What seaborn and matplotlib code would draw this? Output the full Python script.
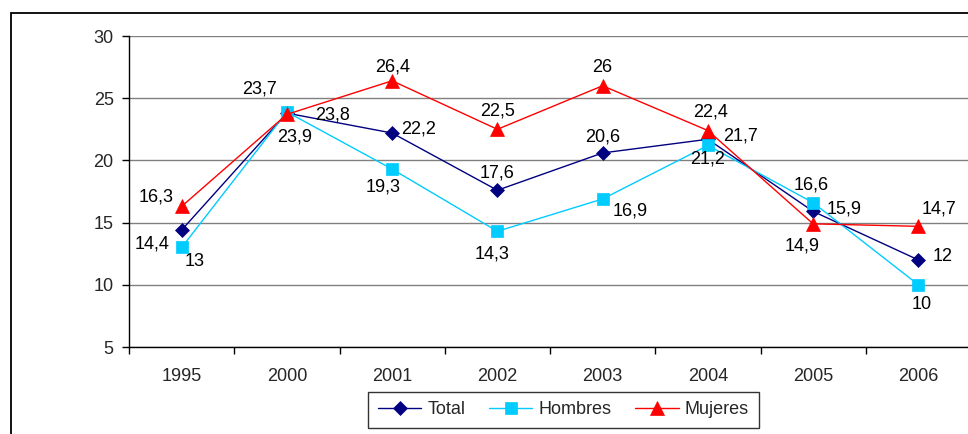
import pandas as pd
import matplotlib
matplotlib.use('Agg')
import matplotlib.pyplot as plt
import seaborn as sns
from matplotlib.patches import Rectangle

# data
years = ['1995', '2000', '2001', '2002', '2003', '2004', '2005', '2006']
total = [14.4, 23.8, 22.2, 17.6, 20.6, 21.7, 15.9, 12]
hombres = [13, 23.9, 19.3, 14.3, 16.9, 21.2, 16.6, 10]
mujeres = [16.3, 23.7, 26.4, 22.5, 26, 22.4, 14.9, 14.7]
series_names = ['Total', 'Hombres', 'Mujeres']

# label offsets in pixels (dx, dy up)
off_total = [(-30, -14), (46, -2), (26, 4), (0, 17), (0, 16), (33, 3), (31, 2), (24, 3)]
off_hombres = [(13, -14), (8, -25), (-9, -18), (-5, -23), (28, -12), (0, -14), (-2, 18), (3, -20)]
off_mujeres = [(-25, 9), (-27, 25), (0, 14), (0, 18), (0, 18), (3, 19), (-11, -22), (21, 17)]

colors = {'Total': '#000080', 'Hombres': '#00CCFF', 'Mujeres': '#FF0000'}
markers = {'Total': 'D', 'Hombres': 's', 'Mujeres': '^'}
msize = {'Total': 7.5, 'Hombres': 9, 'Mujeres': 10.5}

df = pd.DataFrame({
    'x': list(range(len(years))) * 3,
    'valor': total + hombres + mujeres,
    'serie': [n for n in series_names for _ in years],
})

sns.set_style('white')
plt.rcParams['font.family'] = ['Liberation Sans', 'DejaVu Sans']
FS = 13

W, H = 968, 434
fig = plt.figure(figsize=(W / 100, H / 100), dpi=100)
ax = fig.add_axes([129 / W, 1 - 347 / H, (971 - 129) / W, (347 - 36) / H])

sns.lineplot(data=df, x='x', y='valor', hue='serie', style='serie',
             palette=colors, markers=markers, dashes=False, linewidth=1,
             legend=False, ax=ax)

for line, name in zip(ax.lines[:3], series_names):
    line.set_markersize(msize[name])
    line.set_markeredgecolor(colors[name])
    line.set_markerfacecolor(colors[name])
    line.set_markeredgewidth(0.5)

# data labels
for vals, offs in [(total, off_total), (hombres, off_hombres), (mujeres, off_mujeres)]:
    for i, (v, o) in enumerate(zip(vals, offs)):
        ax.annotate(f'{v:g}'.replace('.', ','), (i, v), xytext=o,
                    textcoords='offset pixels', ha='center', va='center',
                    fontsize=FS, color='black')

ax.set_ylim(5, 30)
ax.set_xlim(-0.5, len(years) - 0.5)
ax.set_yticks([5, 10, 15, 20, 25, 30])
ax.yaxis.grid(True, color='#808080', linewidth=1)
ax.set_axisbelow(True)
ax.tick_params(axis='y', length=5, width=1, color='black', labelsize=FS, pad=6, left=True)

ax.set_xticks([i - 0.5 for i in range(len(years) + 1)])
ax.set_xticklabels([])
ax.set_xticks(range(len(years)), minor=True)
ax.set_xticklabels(years, minor=True)
ax.tick_params(axis='x', which='major', length=5, width=1, color='black', bottom=True)
ax.tick_params(axis='x', which='minor', length=0, labelsize=FS, pad=15)
ax.set_xlabel('')
ax.set_ylabel('')

for s in ['top', 'right']:
    ax.spines[s].set_visible(False)
for s in ['left', 'bottom']:
    ax.spines[s].set_color('black')
    ax.spines[s].set_linewidth(1)

leg = ax.legend(handles=ax.lines[:3], labels=series_names, ncol=3,
                loc='center', bbox_to_anchor=((370 + 757) / 2 / W, 1 - 410 / H),
                bbox_transform=fig.transFigure, fontsize=FS, frameon=True,
                fancybox=False, edgecolor='black', handlelength=2.4,
                handletextpad=0.35, columnspacing=1.3, borderpad=0.55)
leg.get_frame().set_linewidth(1)

# outer chart frame
fig.patches.append(Rectangle((11 / W, -0.1), 1.2, 1 - 13 / H + 0.1,
                             transform=fig.transFigure, fill=False,
                             edgecolor='black', linewidth=1.3))

fig.savefig('out.png', dpi=100)
